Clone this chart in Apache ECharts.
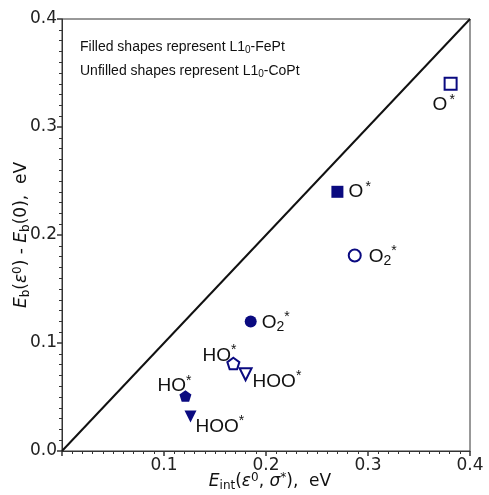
<!DOCTYPE html>
<html>
<head>
<meta charset="utf-8">
<script src="https://cdn.jsdelivr.net/npm/echarts@6/dist/echarts.min.js"></script>
<style>html,body{margin:0;padding:0;background:#fff}#c{width:489px;height:495px}</style>
</head>
<body>
<div id="c"></div>
<script>
// Species order shared by both alloys
const species = ['O*', 'O2*', 'HO*', 'HOO*'];
// Filled shapes: L1_0-FePt
const fePtX = [0.270, 0.185, 0.121, 0.126];
const fePtY = [0.240, 0.120, 0.051, 0.032];
// Unfilled shapes: L1_0-CoPt
const coPtX = [0.381, 0.287, 0.168, 0.180];
const coPtY = [0.340, 0.181, 0.081, 0.071];
// Parity line
const parityX = [0, 0.4];
const parityY = [0, 0.4];
const xTicks = [0.1, 0.2, 0.3, 0.4];
const yTicks = [0.0, 0.1, 0.2, 0.3, 0.4];

const NAVY = '#0a0a80';
const PENT = 'path://M0,-1 L0.951,-0.309 L0.588,0.809 L-0.588,0.809 L-0.951,-0.309 Z';
const symbolOf = {'O*': 'rect', 'O2*': 'circle', 'HO*': PENT, 'HOO*': 'triangle'};
const sizeOf = {'O*': 12, 'O2*': 12, 'HO*': 12, 'HOO*': 12};
const rotOf = {'O*': 0, 'O2*': 0, 'HO*': 0, 'HOO*': 180};
const labelText = {
  'O*': '{n|O}{sp| }{s|*}',
  'O2*': '{n|O}{b|2}{s|*}',
  'HO*': '{n|HO}{s|*}',
  'HOO*': '{n|HOO}{s|*}'
};
const richLbl = {
  n: {fontSize: 19, fontFamily: 'Liberation Sans', color: '#111', lineHeight: 24, verticalAlign: 'middle'},
  sp: {fontSize: 8, lineHeight: 24},
  s: {fontSize: 14, fontFamily: 'Liberation Sans', color: '#111', lineHeight: 24, verticalAlign: 'top'},
  b: {fontSize: 14, fontFamily: 'Liberation Sans', color: '#111', lineHeight: 22, verticalAlign: 'bottom'}
};
// label placement (style only)
const fePtLbl = {
  'O*': {align: 'left', offset: [11, 0]},
  'O2*': {align: 'left', offset: [11, 1]},
  'HO*': {align: 'right', offset: [6, -10]},
  'HOO*': {align: 'left', offset: [5, 10]}
};
const coPtLbl = {
  'O*': {align: 'center', offset: [-7, 21]},
  'O2*': {align: 'left', offset: [14, 1]},
  'HO*': {align: 'right', offset: [3, -8]},
  'HOO*': {align: 'left', offset: [7, 7]}
};

function buildData(xs, ys, filled, lblCfg) {
  return species.map((sp, i) => ({
    value: [xs[i], ys[i]],
    symbol: symbolOf[sp],
    symbolSize: sizeOf[sp],
    symbolRotate: rotOf[sp],
    symbolKeepAspect: true,
    itemStyle: filled ? {color: NAVY, borderWidth: 0, opacity: 1}
                      : {color: '#fff', borderColor: NAVY, borderWidth: 2, opacity: 1},
    label: {
      show: true,
      position: 'inside',
      formatter: labelText[sp],
      align: lblCfg[sp].align,
      verticalAlign: 'middle',
      offset: lblCfg[sp].offset,
      color: '#111',
      opacity: 1,
      rich: richLbl
    }
  }));
}

const chart = echarts.init(document.getElementById('c'), null, {renderer: 'canvas'});
const axisFont = {fontFamily: 'DejaVu Sans', fontSize: 17, color: '#222'};
const nameRich = {
  i: {fontFamily: 'DejaVu Sans', fontStyle: 'italic', fontSize: 17, color: '#111', lineHeight: 20},
  n: {fontFamily: 'DejaVu Sans', fontSize: 17, color: '#111', lineHeight: 20},
  b: {fontFamily: 'DejaVu Sans', fontSize: 12, color: '#111', verticalAlign: 'bottom', lineHeight: 16},
  p: {fontFamily: 'DejaVu Sans', fontSize: 12, color: '#111', verticalAlign: 'top', lineHeight: 17},
  ip: {fontFamily: 'DejaVu Sans', fontStyle: 'italic', fontSize: 17, color: '#111', lineHeight: 20}
};

chart.setOption({
  animation: false,
  backgroundColor: '#fff',
  grid: {left: 62, right: 19, top: 19, bottom: 44, containLabel: false, outerBoundsMode: 'none',
         show: true, borderColor: '#333', borderWidth: 1, backgroundColor: 'transparent'},
  xAxis: {
    type: 'value', min: 0, max: 0.4, interval: 0.1,
    name: '{i|E}{b|int}{n|(}{i|ε}{p|0}{n|, }{ip|σ}{p|*}{n|),  eV}',
    nameLocation: 'middle', nameGap: 21, nameMoveOverlap: false,
    nameTextStyle: {rich: nameRich, padding: [0, 0, 0, 8]},
    axisLine: {show: true, lineStyle: {color: '#333', width: 1}},
    axisTick: {show: true, length: 5, lineStyle: {color: '#333', width: 1.5}},
    minorTick: {show: true, splitNumber: 10, length: 3, lineStyle: {color: '#333', width: 1}},
    splitLine: {show: false},
    axisLabel: Object.assign({}, axisFont, {
      margin: 6,
      formatter: v => (xTicks.some(t => Math.abs(t - v) < 1e-9) ? v.toFixed(1) : '')
    })
  },
  yAxis: {
    type: 'value', min: 0, max: 0.4, interval: 0.1,
    name: '{i|E}{b|b}{n|(}{i|ε}{p|0}{n|) - }{i|E}{b|b}{n|(0),  eV}',
    nameLocation: 'middle', nameGap: 30, nameRotate: 90, nameMoveOverlap: false,
    nameTextStyle: {rich: nameRich},
    axisLine: {show: true, lineStyle: {color: '#333', width: 1}},
    axisTick: {show: true, length: 5, lineStyle: {color: '#333', width: 1.5}},
    minorTick: {show: true, splitNumber: 10, length: 3, lineStyle: {color: '#333', width: 1}},
    splitLine: {show: false},
    axisLabel: Object.assign({}, axisFont, {
      margin: 5,
      formatter: v => (yTicks.some(t => Math.abs(t - v) < 1e-9) ? v.toFixed(1) : '')
    })
  },
  graphic: [
    {type: 'text', left: 80, top: 40, style: {
      text: '{a|Filled shapes represent L1}{s|0}{a|-FePt}',
      rich: {a: {fontFamily: 'Liberation Sans', fontSize: 14, fill: '#111', lineHeight: 17},
             s: {fontFamily: 'Liberation Sans', fontSize: 10, fill: '#111', verticalAlign: 'bottom', lineHeight: 12}}
    }},
    {type: 'text', left: 80, top: 64, style: {
      text: '{a|Unfilled shapes represent L1}{s|0}{a|-CoPt}',
      rich: {a: {fontFamily: 'Liberation Sans', fontSize: 14, fill: '#111', lineHeight: 17},
             s: {fontFamily: 'Liberation Sans', fontSize: 10, fill: '#111', verticalAlign: 'bottom', lineHeight: 12}}
    }}
  ],
  series: [
    {
      type: 'line',
      data: parityX.map((x, i) => [x, parityY[i]]),
      symbol: 'none',
      lineStyle: {color: '#111', width: 2},
      z: 1,
      silent: true
    },
    {type: 'scatter', name: 'FePt', data: buildData(fePtX, fePtY, true, fePtLbl), z: 3},
    {type: 'scatter', name: 'CoPt', data: buildData(coPtX, coPtY, false, coPtLbl), z: 3}
  ]
});
</script>
</body>
</html>
